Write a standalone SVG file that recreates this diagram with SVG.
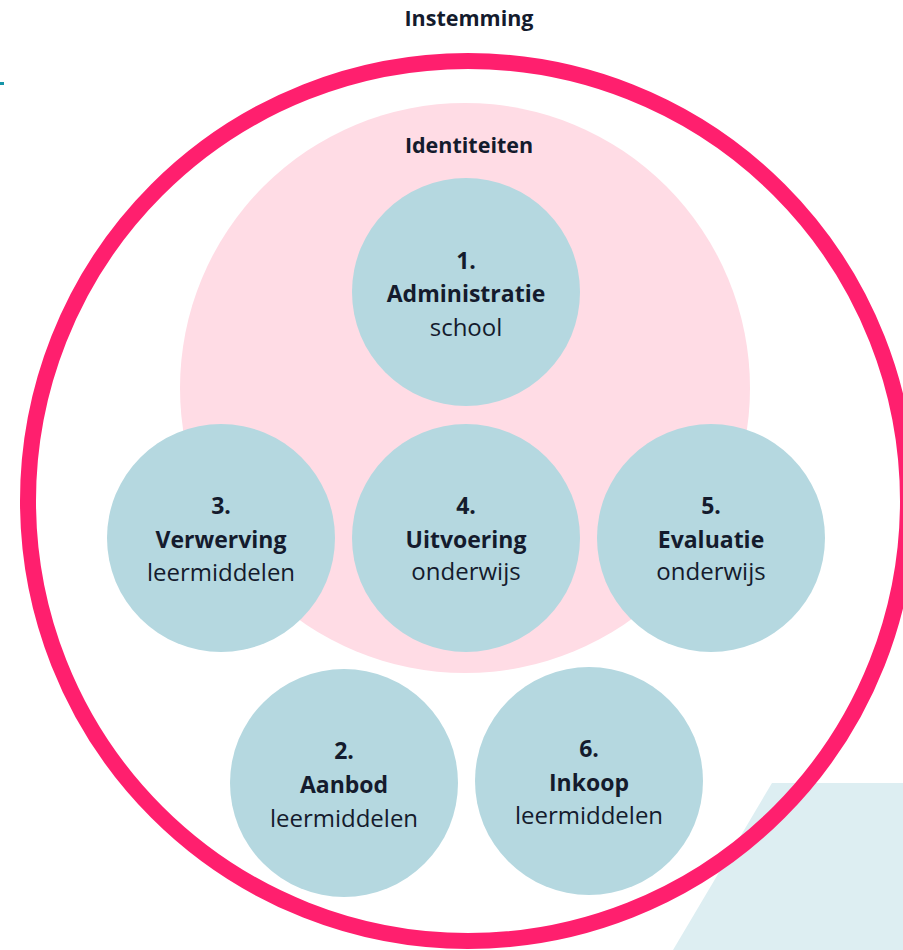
<svg xmlns="http://www.w3.org/2000/svg" width="903" height="950" viewBox="0 0 903 950">
<style>
.t{font-family:"Open Sans","Liberation Sans",sans-serif;fill:#141B2D;text-anchor:middle}
.b{font-weight:700;font-size:23px}
.r{font-weight:400;font-size:24px}
.h{font-weight:700;font-size:21.5px}
.node{fill:#B5D8E0}
</style>
<rect width="903" height="950" fill="#FFFFFF"/>
<rect x="0" y="82" width="4" height="3" fill="#1695A8"/>
<polygon points="772,783 910,783 910,950 673,950" fill="#DDEEF2"/>
<g id="instemming">
<circle cx="468" cy="501" r="440" fill="none" stroke="#FF1F6E" stroke-width="16"/>
<text class="t h" x="469" y="26">Instemming</text>
</g>
<g id="identiteiten">
<circle cx="465" cy="388" r="285" fill="#FFDCE5"/>
<text class="t h" x="469" y="153">Identiteiten</text>
</g>
<g id="n1">
<circle class="node" cx="466" cy="292" r="114"/>
<text class="t b" x="466" y="269">1.</text>
<text class="t b" x="466" y="302">Administratie</text>
<text class="t r" x="466" y="336">school</text>
</g>
<g id="n3">
<circle class="node" cx="221" cy="538" r="114"/>
<text class="t b" x="221" y="514">3.</text>
<text class="t b" x="221" y="548">Verwerving</text>
<text class="t r" x="221" y="581">leermiddelen</text>
</g>
<g id="n4">
<circle class="node" cx="466" cy="538" r="114"/>
<text class="t b" x="466" y="514">4.</text>
<text class="t b" x="466" y="548">Uitvoering</text>
<text class="t r" x="466" y="580">onderwijs</text>
</g>
<g id="n5">
<circle class="node" cx="711" cy="538" r="114"/>
<text class="t b" x="711" y="514">5.</text>
<text class="t b" x="711" y="548">Evaluatie</text>
<text class="t r" x="711" y="580">onderwijs</text>
</g>
<g id="n2">
<circle class="node" cx="344" cy="783" r="114"/>
<text class="t b" x="344" y="759">2.</text>
<text class="t b" x="344" y="793">Aanbod</text>
<text class="t r" x="344" y="827">leermiddelen</text>
</g>
<g id="n6">
<circle class="node" cx="589" cy="781" r="114"/>
<text class="t b" x="589" y="757">6.</text>
<text class="t b" x="589" y="791">Inkoop</text>
<text class="t r" x="589" y="824">leermiddelen</text>
</g>
</svg>
